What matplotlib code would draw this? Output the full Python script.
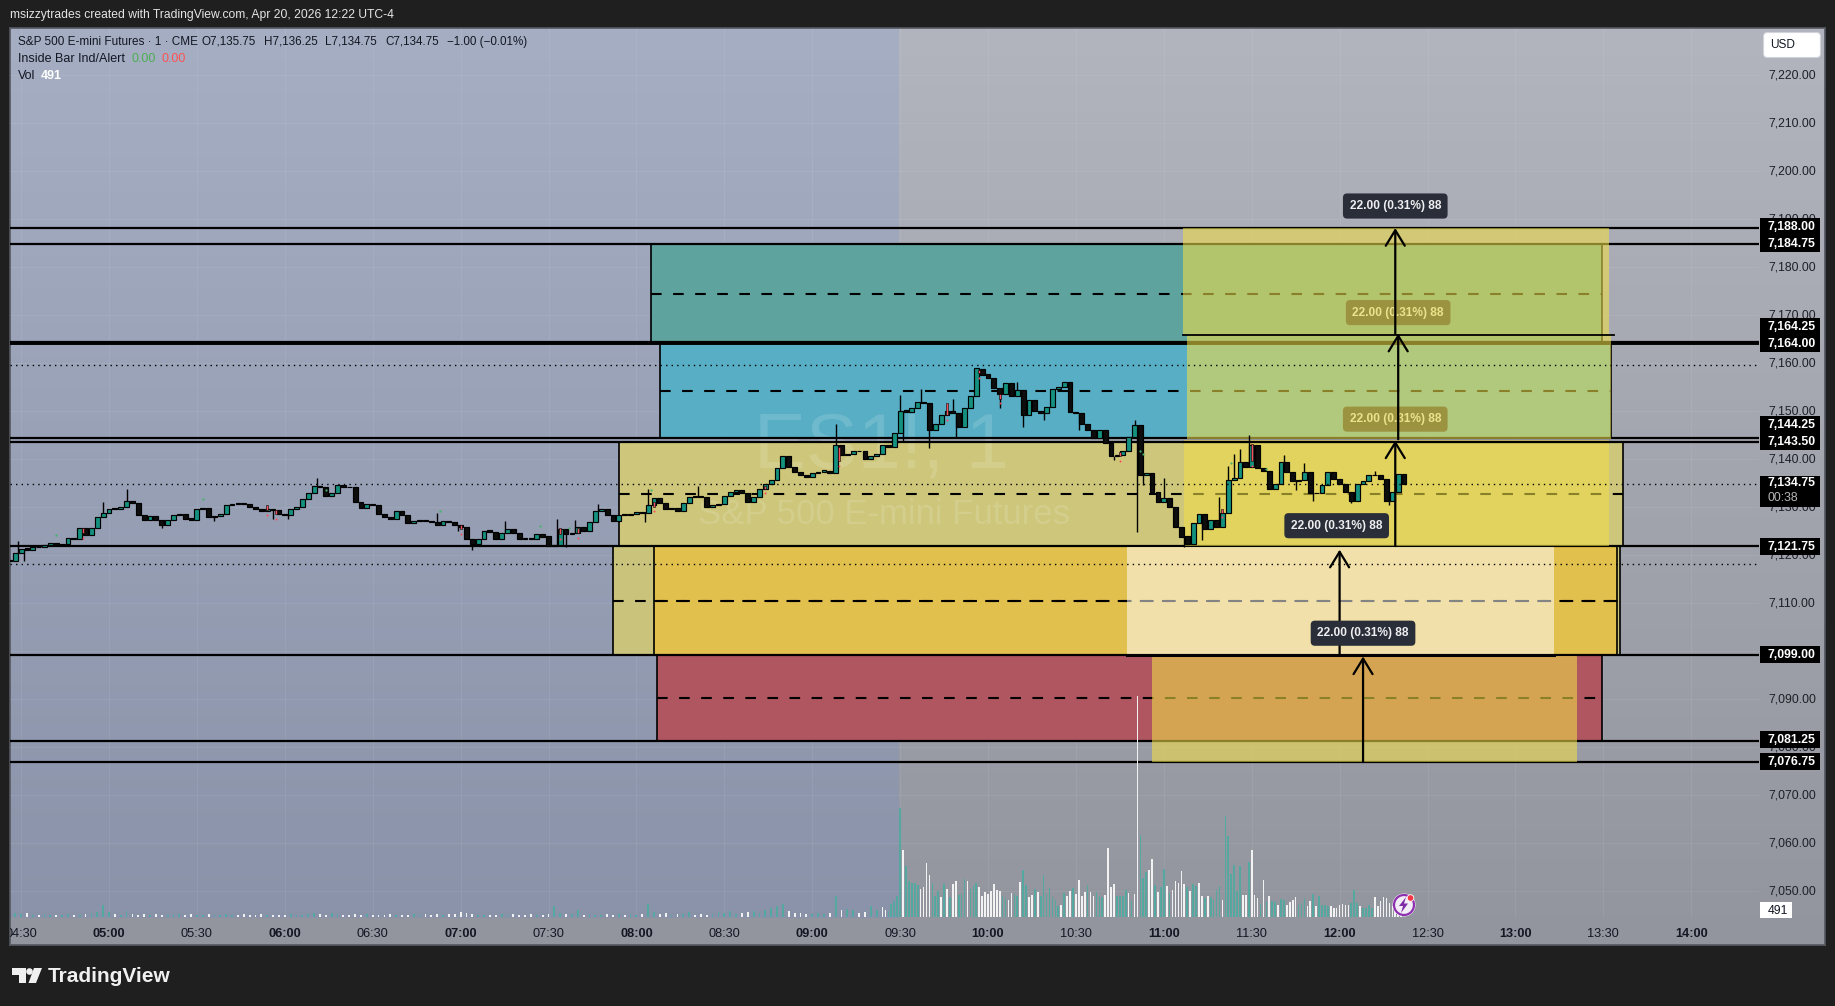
import numpy as np
import matplotlib
matplotlib.use("Agg")
import matplotlib.pyplot as plt
from matplotlib import transforms as mtransforms
from matplotlib.patches import Rectangle, FancyBboxPatch, Polygon, Circle

W, H = 1835, 1006
plt.rcParams['font.family'] = ['Liberation Sans', 'DejaVu Sans']

# ---------- data ----------
bar_start_min = 266      # 04:26, two-minute samples of the close
closes = [
 7118.75,7120.25,7121.25,7121.0,7121.5,7121.5,7122.0,7122.5,7122.0,7122.25,
 7123.5,7123.25,7125.5,7124.0,7125.5,7127.75,7128.75,7129.5,7129.5,7130.0,
 7131.25,7130.75,7128.25,7127.25,7128.0,7127.25,7126.25,7127.25,7128.25,7128.5,
 7127.5,7127.25,7129.5,7129.75,7127.75,7128.0,7128.5,7130.25,7130.5,7130.5,
 7130.5,7130.0,7129.5,7129.0,7129.5,7129.25,7128.5,7128.25,7129.5,7130.0,
 7131.5,7132.75,7134.25,7134.0,7132.25,
 7132.75,7134.5,7134.0,7134.0,7131.0,7129.75,7130.5,7130.25,7128.5,7127.75,
 7127.5,7129.0,7128.25,7126.5,7127.0,7127.25,7127.0,7126.75,7126.25,7127.0,
 7126.75,7126.25,7125.75,7123.25,7122.25,7123.25,7125.0,7124.75,7123.25,7124.5,
 7125.25,7124.5,7123.25,7123.25,7123.25,7124.25,7123.75,7121.75,7122.0,7125.25,
 7124.25,7124.5,7125.75,7125.0,7126.75,7129.0,7129.5,7128.25,7127.0,7128.25,
 7128.25,7128.5,7128.75,7128.75,7130.25,7131.75,7130.75,
 7129.5,7129.75,7129.0,7130.75,7132.0,7132.0,7132.0,7130.0,7130.25,7130.5,
 7132.25,7133.0,7133.5,7132.75,7131.0,7132.0,7133.75,7134.75,7135.5,7138.0,
 7140.5,7138.25,7137.25,7136.5,7136.25,7137.0,7137.25,7137.5,7137.0,7142.75,
 7140.75,7141.0,7141.5,7141.5,7140.0,7140.5,7141.0,7142.75,7142.5,7145.25,
 7150.0,7149.75,7150.5,7151.75,7151.5,7146.0,7147.25,7149.0,7150.0,7149.5,
 7146.5,7150.5,7153.0,7158.75,7157.5,7156.75,7154.75,7153.5,7155.75,7153.0,
 7154.25,7149.0,7152.25,7150.0,7149.5,7150.75,7154.5,7155.0,7156.0,7149.75,
 7149.5,7147.25,7146.0,7144.25,7146.0,7143.25,7140.5,7140.75,7141.5,7144.5,
 7147.0,7136.5,7137.0,7133.0,7131.0,7131.75,7130.0,7125.75,7123.75,7122.25,
 7126.5,7128.5,7125.25,7127.25,7125.75,
 7128.75,7135.5,7136.0,7139.25,7138.25,7142.75,7138.0,7137.5,7133.75,7134.75,
 7139.25,7137.25,7135.25,7135.5,7137.25,7132.75,7132.75,7134.5,7137.25,7135.75,
 7134.75,7133.0,7131.25,7134.75,7135.25,7136.5,7136.5,7135.75,7131.25,7133.0,
 7136.75,7134.75,
]
wick_times = [269,271,298,306,318,336,356,361,371,412,419,424,435,453,456,459,467,
              483,484,501,548,570,571,577,580,588,589,604,610,612,619,631,643,650,
              651,652,653,660,667,673,679,682,684,686,689,701,705,708,711,724,732,737]
wick_prices = [7122.75,7118.75,7131.0,7133.75,7125.5,7127.0,7127.5,7127.5,7136.0,7128.75,
               7125.0,7121.0,7127.0,7127.5,7121.5,7127.25,7130.5,7126.75,7133.75,7134.25,
               7147.25,7153.25,7143.75,7154.5,7142.25,7152.5,7144.5,7150.5,7156.0,7146.5,
               7148.0,7146.0,7139.75,7148.0,7124.75,7141.0,7134.5,7136.0,7121.5,7123.0,
               7132.0,7138.5,7141.0,7142.0,7145.0,7140.75,7133.5,7139.0,7131.25,7130.75,
               7137.5,7130.25]
red_times = [291,354,357,420,454,460,486,524,549,586,597,604,645,680,690]
red_low   = [7124.5,7129.25,7128.5,7125.25,7124.25,7124.5,7130.0,7133.75,7139.5,7149.0,7157.75,7152.5,7140.5,7128.75,7139.5]
red_high  = [7125.5,7130.25,7129.25,7126.25,7125.5,7125.5,7131.0,7134.25,7142.5,7151.5,7158.5,7153.5,7141.25,7129.5,7143.0]
green_times  = [282,332,374,413,447,457,485,652,653,683,695]
green_prices = [7124.0,7131.5,7133.5,7129.0,7126.0,7125.5,7133.5,7141.5,7141.0,7139.0,7137.75]

premarket_vol = [
 60,95,70,110,65,45,70,60,50,65, 70,55,60,80,110,140,324,140,70,60,
 153,70,60,80,55,75,60,50,70,80, 60,85,60,50,90,60,50,75,65,50,
 70,60,50,75,60,45,65,50,80,60, 55,85,108,70,50,120,70,60,55,80,
 60,75,65,50,45,70,55,60,45,70, 60,75,55,70,65,70,90,126,110,70,
 60,50,65,55,70,60,75,50,60,70, 60,55,85,288,110,90,75,180,60,70,
 65,50,85,60,70,60,75,55,90,360, 140,75,110,60,85,70,130,60,90,60,
 75,130,110,150,70,100,130,160,120,190, 243,288,351,160,110,120,90,70,100,90,
 120,576,200,210,200,120,130,290,200]
session_vol_start = 564   # one-minute bars from 09:24
session_vol = [
 270,198,153,360,423,576,2950,1818,1386,963,918,918,873,765,801,1458,1143,918,558,693,
 531,900,765,531,900,981,603,630,1035,981,765,846,927,801,558,684,630,693,900,738,
 693,558,513,468,657,630,558,954,1260,873,540,603,765,666,558,1143,630,783,531,468,
 306,333,648,576,693,783,630,1008,576,666,873,666,558,666,558,531,603,1863,801,900,
 576,576,576,738,648,423,630,5970,2223,1053,1206,1260,1566,873,666,810,1296,846,648,738,
 981,918,1251,900,810,693,900,846,927,576,513,576,540,468,738,846,468,2736,2196,1170,
 1413,711,1386,603,603,1485,1818,603,513,360,1008,441,558,441,414,333,486,468,333,396,
 468,531,333,378,504,306,423,630,306,576,333,333,306,288,243,243,333,360,333,333,
 378,738,378,288,243,243,333,243,549,288,420,549,504,380,300,260,240,491]
session_vol_colors = ("wwtttttwtttttwwwwttt" "wtwtwwtttwtttwwwwwww" "wttwwttwttwwtwtttttt"
                      "twtwwtwwwwtwwtttwwww" "ttttwtwwtttwwtwttwtw" "wwwwtwttwwtwttttwttt"
                      "tttwwtwwwtwtwttwttww" "wwtttwwtwttttwwwwwww" "tttwttttwwwwwwwwwwww")
levels = [7188.0,7184.75,7164.25,7164.0,7144.25,7143.5,7121.75,7099.0,7081.25,7076.75]
price_ticks = list(range(7050, 7230, 10))
time_ticks = list(range(270, 870, 30))
time_labels = ["04:30","05:00","05:30","06:00","06:30","07:00","07:30","08:00","08:30","09:00",
               "09:30","10:00","10:30","11:00","11:30","12:00","12:30","13:00","13:30","14:00"]

# zones: start, end, low, high, colour
zones = [
 (485.0,809.5,7164.0,7184.75,"#5FA39F"),
 (488.0,812.6,7144.25,7164.0,"#58AEC4"),
 (474.0,816.7,7121.75,7143.5,"#CDC67B"),
 (472.0,815.7,7099.0,7121.75,"#C9C37C"),
 (486.0,814.7,7099.0,7121.75,"#E2C04D"),
 (487.2,809.5,7081.25,7099.0,"#AF5660"),
]
# measured moves: start, end, low, high
moves = [
 (666.5,812.0,7166.0,7188.0),
 (668.0,812.6,7144.0,7166.0),
 (667.0,812.0,7121.75,7143.75),
 (656.0,801.0,7076.75,7098.75),
]
cream_move = (647.4,793.2,7099.0,7121.6)
arrows = [(739,7166.0,7188.0),(740,7144.0,7166.0),(739,7121.75,7143.75),(720,7099.0,7121.0),(728,7076.75,7098.75)]
measure_text = "22.00 (0.31%) 88"
measure_solid = [(739,7192.6),(719,7126.0),(728,7103.6)]
measure_under = [(740,7170.4),(739,7148.2)]

# ---------- frame ----------
fig = plt.figure(figsize=(W/100, H/100), dpi=100, facecolor="#1F1F1F")
pxT = mtransforms.Affine2D().scale(1, -1).translate(0, H)

def ax_rect(x0, y0, x1, y1):
    return [x0/W, 1-y1/H, (x1-x0)/W, (y1-y0)/H]

bg = fig.add_axes(ax_rect(10, 28, 1825, 945), zorder=-5)
rows, cols = 917, 1815
f = np.linspace(0, 1, rows)[:, None]
gray = np.array([178,180,190])[None, :]*(1-f) + np.array([147,149,158])[None, :]*f
blue = np.array([166,174,195])[None, :]*(1-f) + np.array([137,146,168])[None, :]*f
img = np.repeat(gray[:, None, :], cols, axis=1)
img[:890, :889, :] = blue[:890, None, :]
bg.imshow(img.astype(np.uint8), aspect="auto", interpolation="nearest")
bg.set_xticks([]); bg.set_yticks([])
for s in bg.spines.values():
    s.set_color("#55585f"); s.set_linewidth(1.2)

ax = fig.add_axes(ax_rect(10, 28, 1759, 918), zorder=1)
ax.patch.set_alpha(0)
ax.set_xlim(300-99/2.93, 300+1650/2.93)
ax.set_ylim(7110+(602.5-918)/4.8, 7110+(602.5-28)/4.8)
for s in ax.spines.values():
    s.set_visible(False)
ax.grid(True, color="white", alpha=0.07, lw=0.8)
ax.set_axisbelow(True)
ax.set_xticks(time_ticks)
ax.set_xticklabels(time_labels, fontsize=9.2, color="#131722")
ax.tick_params(axis="x", length=0, pad=7)
clip = mtransforms.TransformedBbox(mtransforms.Bbox([[10, 0], [W, H]]), mtransforms.IdentityTransform())
for lab, txt in zip(ax.get_xticklabels(), time_labels):
    if txt.endswith(":00"):
        lab.set_fontweight("bold")
    lab.set_clip_on(True)
    lab.set_clip_box(clip)

# watermark
ax.text(0.0, 0.0, "ES1!, 1", transform=pxT+mtransforms.Affine2D().translate(881, -447), fontsize=56,
        color="white", alpha=0.14, ha="center", va="center", zorder=2.3)
ax.text(0.0, 0.0, "S&P 500 E-mini Futures", transform=pxT+mtransforms.Affine2D().translate(884, -515), fontsize=25,
        color="white", alpha=0.14, ha="center", va="center", zorder=2.3)

# ---------- zones ----------
for x0, x1, lo, hi, col in zones:
    ax.add_patch(Rectangle((x0, lo), x1-x0, hi-lo, fc=col, ec="black", lw=1.2, zorder=2))
    ax.plot([x0, x1], [(lo+hi)/2]*2, color="black", lw=1.5, ls=(0, (5.1, 5.5)), zorder=2.2)

for p in levels:
    ax.axhline(p, color="black", lw=(2.8 if p == 7164.0 else 1.6), zorder=2.4)

bbox_measure = dict(boxstyle="round,pad=0.55,rounding_size=0.35", fc="#2A2E39", ec="none")
for t, p in measure_under:
    ax.text(t, p, measure_text, fontsize=8.6, fontweight="bold", color="#e8e8ea", ha="center", va="center",
            bbox=bbox_measure, zorder=2.5)

# overlays
for x0, x1, lo, hi in moves:
    ax.add_patch(Rectangle((x0, lo), x1-x0, hi-lo, fc="#F0DE48", alpha=0.58, ec="none", zorder=3))
x0, x1, lo, hi = cream_move
ax.add_patch(Rectangle((x0, lo), x1-x0, hi-lo, fc="white", alpha=0.52, ec="none", zorder=3))

ax.plot([666.5, 813.5], [7165.75, 7165.75], color="black", lw=1.3, zorder=3.2)
ax.plot([667, 812], [7143.5, 7143.5], color="black", lw=1.6, zorder=3.2)
ax.plot([647.4, 793.2], [7099, 7099], color="black", lw=2.2, zorder=3.2)

# ---------- candles ----------
times = bar_start_min + 2*np.arange(len(closes))
closes_a = np.array(closes)
opens_a = np.r_[closes_a[0], closes_a[:-1]]
lo_b = np.minimum(opens_a, closes_a)
hi_b = np.maximum(opens_a, closes_a)
ups = closes_a > opens_a
wick_base = closes_a[(np.array(wick_times)-bar_start_min)//2]
ax.vlines(wick_times, np.minimum(wick_base, wick_prices), np.maximum(wick_base, wick_prices),
          color="black", lw=1.0, zorder=4)
ax.bar(times, np.maximum(hi_b-lo_b, 0.15), bottom=lo_b, width=1.65,
       color=np.where(ups, "#15917F", "#0d0d0d"), edgecolor="black", linewidth=0.85, zorder=4.2)
ax.bar(red_times, np.array(red_high)-np.array(red_low), bottom=red_low, width=0.7,
       color="#F7525F", edgecolor="black", linewidth=0.4, zorder=4.3)
ax.plot(red_times, np.array(red_low)-1.0, ls="none", marker="o", ms=1.4, mew=0, color="#FF4A55", zorder=4.3)
ax.plot(green_times, green_prices, ls="none", marker="o", ms=1.6, mew=0, color="#45B36B", zorder=4.3)

# dotted levels
for p in (7159.5, 7134.75, 7118.0):
    ax.axhline(p, color="black", lw=1.0, ls=(0, (1, 3)), zorder=4.5)

# arrows
for t, lo, hi in arrows:
    ax.annotate("", xy=(t, hi), xytext=(t, lo),
                arrowprops=dict(arrowstyle="->,head_length=0.62,head_width=0.38", color="black", lw=1.6,
                                mutation_scale=18, shrinkA=0, shrinkB=0), zorder=5)
for t, p in measure_solid:
    ax.text(t, p, measure_text, fontsize=8.6, fontweight="bold", color="#eeeef0", ha="center", va="center",
            bbox=bbox_measure, zorder=6)

# ---------- volume ----------
axv = ax.twinx()
axv.set_zorder(2)
axv.patch.set_alpha(0)
axv.set_ylim(-27, 889*27)
axv.set_yticks([])
for s in axv.spines.values():
    s.set_visible(False)
TEAL, WHITE = "#55A89F", "#F2F2F2"
pre_t = times[:len(premarket_vol)]
axv.bar(pre_t, premarket_vol, width=0.62, color=np.where(ups[:len(premarket_vol)], TEAL, WHITE), linewidth=0)
sess_t = session_vol_start + np.arange(len(session_vol))
cols_v = [(TEAL if c == "t" else WHITE) for c in session_vol_colors.ljust(len(session_vol), "w")[:len(session_vol)]]
axv.bar(sess_t, session_vol, width=0.56, color=cols_v, linewidth=0)

# price axis (twinx moves the ticks of ax to the left, so they are set here)
ax.yaxis.tick_right()
ax.set_yticks(price_ticks)
ax.set_yticklabels([f"{p:,.2f}" for p in price_ticks], fontsize=8.8, color="#1d2027")
ax.tick_params(axis="y", length=0, pad=6.5)

# ---------- header text ----------
def T(x, y, s, z=20, **k):
    k.setdefault("fontsize", 9)
    k.setdefault("va", "center")
    return fig.text(x, y, s, transform=pxT, zorder=z, **k)

T(9.5, 15, "msizzytrades created with TradingView.com, Apr 20, 2026 12:22 UTC-4", color="#E4E4E4", fontsize=8.7)
T(18, 42, "S&P 500 E-mini Futures · 1 · CME", color="#131722", fontsize=8.5)
for xp, s in [(202, "O7,135.75"), (264, "H7,136.25"), (325, "L7,134.75"), (385.4, "C7,134.75"), (446.6, "−1.00 (−0.01%)")]:
    T(xp, 42, s, color="#131722", fontsize=8.4)
T(18, 59, "Inside Bar Ind/Alert", color="#131722", fontsize=9.0)
T(131, 59, "0.00", color="#4CAF50", fontsize=9.0)
T(162, 59, "0.00", color="#FF5252", fontsize=9.0)
T(18, 76, "Vol", color="#131722", fontsize=9.0)
T(41, 76, "491", color="white", fontsize=9.0, fontweight="bold")

# ---------- price tags ----------
def box(x0, y0, x1, y1, col):
    fig.add_artist(Rectangle((x0, y0), x1-x0, y1-y0, transform=pxT, fc=col, ec="none", zorder=18))

tag_y = [226.7, 243.7, 326.7, 343.7, 424.7, 441.7, 546.7, 654.7, 739.7, 761.7]
for p, y in zip(levels, tag_y):
    box(1760, y-8.5, 1820, y+8.5, "black")
    T(1768, y, f"{p:,.2f}", color="white", fontsize=8.8, fontweight="bold", z=19)
box(1760, 476, 1820, 507, "black")
T(1768, 483.3, "7,134.75", color="white", fontsize=8.8, fontweight="bold")
T(1768, 497.7, "00:38", color="#B8B8B8", fontsize=8.8)
box(1760, 902, 1792, 918, "white")
T(1768, 910.5, "491", color="#131722", fontsize=8.8)

fig.add_artist(FancyBboxPatch((1765, 34), 54, 22, boxstyle="round,pad=1.5,rounding_size=4", transform=pxT,
                              fc="white", ec="#D0D3DA", lw=0.8, zorder=18))
T(1783, 45.5, "USD", color="#131722", fontsize=8.6, ha="center")

# lightning icon
fig.add_artist(Circle((1404, 905), 11.5, transform=pxT, fc="white", ec="none", zorder=18))
fig.add_artist(Circle((1404, 905), 10, transform=pxT, fc="#F2EDF6", ec="#8E2FB0", lw=1.6, zorder=18.1))
fig.add_artist(Polygon([(1406, 897), (1399, 906), (1403, 906), (1401, 913), (1408, 903.5), (1404, 903.5)],
                       transform=pxT, fc="#7E2BA8", ec="none", zorder=18.2))
fig.add_artist(Circle((1410.5, 898), 3.3, transform=pxT, fc="#F23645", ec="white", lw=0.6, zorder=18.3))

# TradingView logo
for pts in ([(12, 968), (26, 968), (26, 983), (19, 983), (19, 975), (12, 975)],
            [(34, 968), (42, 968), (36, 983), (28.5, 983)]):
    fig.add_artist(Polygon(pts, transform=pxT, fc="#F0F0F0", ec="none", zorder=18))
fig.add_artist(Circle((29.5, 971.5), 3.3, transform=pxT, fc="#F0F0F0", ec="none", zorder=18))
T(48, 976, "TradingView", color="#F0F0F0", fontsize=15, fontweight="bold")

fig.savefig("out.png", dpi=100, facecolor=fig.get_facecolor())
